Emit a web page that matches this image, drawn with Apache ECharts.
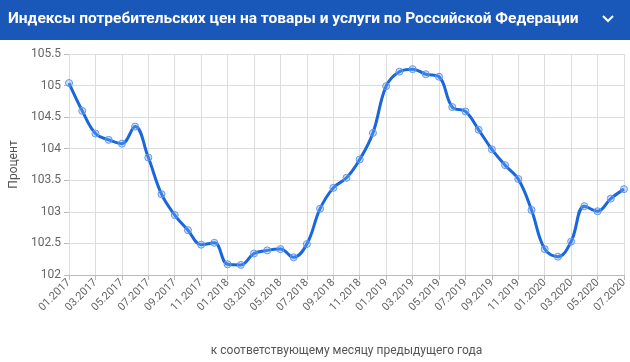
<!DOCTYPE html>
<html><head><meta charset="utf-8">
<script src="https://cdn.jsdelivr.net/npm/echarts@6/dist/echarts.min.js"></script>
<style>html,body{margin:0;padding:0;background:#fff}#c{width:630px;height:362px}</style>
</head><body><div id="c"></div>
<script>
const titleText = 'Индексы потребительских цен на товары и услуги по Российской Федерации';
const yName = 'Процент';
const xName = 'к соответствующему месяцу предыдущего года';
const categories = [
 '01.2017','02.2017','03.2017','04.2017','05.2017','06.2017','07.2017','08.2017','09.2017','10.2017','11.2017','12.2017',
 '01.2018','02.2018','03.2018','04.2018','05.2018','06.2018','07.2018','08.2018','09.2018','10.2018','11.2018','12.2018',
 '01.2019','02.2019','03.2019','04.2019','05.2019','06.2019','07.2019','08.2019','09.2019','10.2019','11.2019','12.2019',
 '01.2020','02.2020','03.2020','04.2020','05.2020','06.2020','07.2020'];
const values = [
 105.04,104.60,104.24,104.14,104.08,104.35,103.86,103.28,102.95,102.71,102.48,102.51,
 102.17,102.16,102.34,102.39,102.41,102.28,102.49,103.05,103.38,103.54,103.83,104.25,
 104.99,105.22,105.26,105.18,105.14,104.66,104.59,104.30,103.99,103.74,103.52,103.03,
 102.41,102.29,102.53,103.09,103.01,103.21,103.36];
const yMin = 102, yMax = 105.5, yStep = 0.5;

const chart = echarts.init(document.getElementById('c'));
chart.setOption({
  animation: false,
  textStyle: {fontFamily: 'Roboto, Arial, sans-serif'},
  graphic: [
    {type: 'rect', left: 0, top: 0, shape: {width: 630, height: 40}, style: {fill: '#1957b8'}},
    {type: 'text', left: 8, top: 11, style: {text: titleText, fill: '#fff', font: 'bold 15.5px Roboto, Arial, sans-serif'}},
    {type: 'polyline', shape: {points: [[603, 16], [608, 21], [613, 16]]}, style: {stroke: '#fff', lineWidth: 2, fill: null}}
  ],
  grid: {left: 67, right: 6, top: 54, bottom: 85},
  xAxis: {
    type: 'category', data: categories, boundaryGap: false,
    name: xName, nameLocation: 'middle', nameGap: 70,
    nameTextStyle: {color: '#555', fontSize: 12},
    axisLine: {lineStyle: {color: '#bbb'}},
    axisTick: {show: true, interval: 1, length: 5, lineStyle: {color: '#bbb'}},
    axisLabel: {interval: 1, rotate: 45, color: '#666', fontSize: 11, margin: 6},
    splitLine: {show: true, interval: 1, lineStyle: {color: '#ddd'}}
  },
  yAxis: {
    type: 'value', min: yMin, max: yMax, interval: yStep,
    name: yName, nameLocation: 'middle', nameGap: 47,
    nameTextStyle: {color: '#555', fontSize: 12},
    axisLine: {show: false},
    axisTick: {show: true, length: 5, lineStyle: {color: '#bbb'}},
    axisLabel: {color: '#666', fontSize: 12, margin: 8},
    splitLine: {lineStyle: {color: '#ddd'}}
  },
  series: [{
    type: 'line', data: values, smooth: 0.4,
    lineStyle: {color: '#1a66db', width: 3},
    symbol: 'circle', symbolSize: 7,
    itemStyle: {color: 'rgba(120,170,245,0.35)', borderColor: '#5b98ee', borderWidth: 1}
  }]
});
</script></body></html>
